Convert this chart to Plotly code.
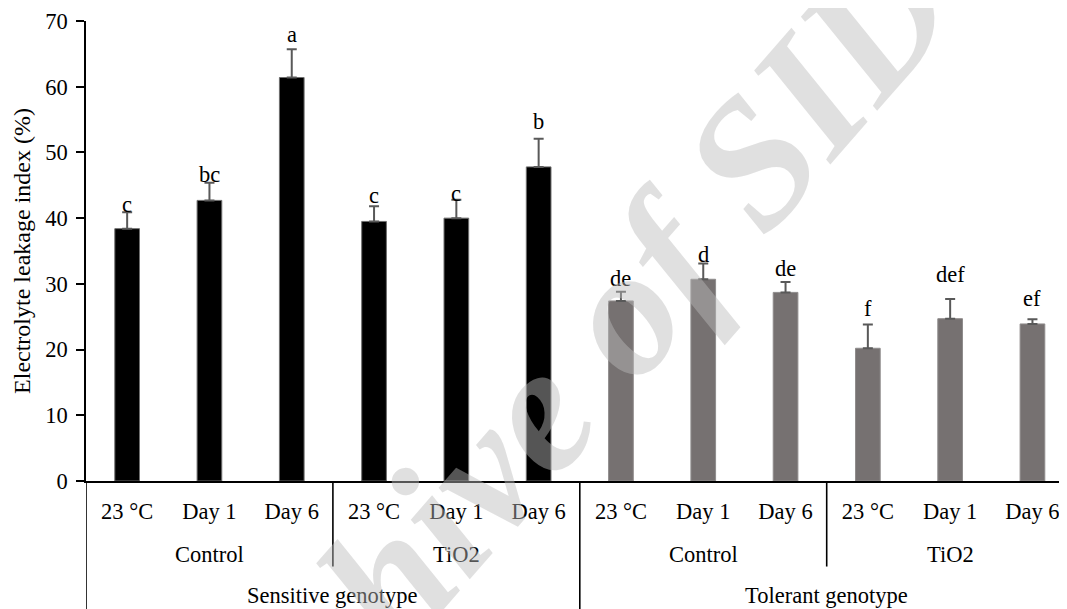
import plotly.graph_objects as go

# ---- data ----
treatments = ["23 °C", "Day 1", "Day 6"] * 4
conditions = ["Control", "TiO2", "Control", "TiO2"]
genotypes = ["Sensitive genotype", "Tolerant genotype"]
values = [38.4, 42.7, 61.4, 39.5, 40.0, 47.8, 27.4, 30.7, 28.7, 20.2, 24.7, 23.9]
errors = [2.5, 2.7, 4.3, 2.3, 2.8, 4.3, 1.4, 2.4, 1.6, 3.6, 3.0, 0.7]
letters = ["c", "bc", "a", "c", "c", "b", "de", "d", "de", "f", "def", "ef"]
y_ticks = [0, 10, 20, 30, 40, 50, 60, 70]

# ---- style ----
FONT = "Liberation Serif"
FS = 22.5
label_gap = [-1, 0, 6, 2, -2, 9, 5, 0, 5, 8, 16, 12]  # px gap between cap and letter baseline
OFF = 8  # page body offset of the figure in the browser window
W, H = 1067, 609
L, T = 86 - OFF, 21 - OFF
plot_h = 460.4
B = H - T - plot_h
R = 0
plot_w = W - L - R
cat_px = 82.3
x_max = -0.5 + plot_w / cat_px
AX_Y = T + plot_h + OFF  # window pixel of the x axis


def py_to_paper(py):
    # window pixel y -> paper fraction
    return (AX_Y - py) / plot_h


def px_to_paper(px):
    return (px - OFF - L) / plot_w


xs = list(range(len(values)))
colors = ["#000000"] * 6 + ["#767171"] * 6
edge = ["#6e6e6e"] * 6 + ["#8f8c8c"] * 6

fig = go.Figure()
fig.add_trace(go.Bar(
    x=xs, y=values, width=0.3,
    marker=dict(color=colors, line=dict(color=edge, width=1)),
    error_y=dict(type="data", array=errors, symmetric=False, arrayminus=[0] * len(errors),
                 color="#595959", thickness=2, width=5),
    showlegend=False,
))

annotations = []
for i, (v, e, t) in enumerate(zip(values, errors, letters)):
    annotations.append(dict(x=i, y=v + e, xref="x", yref="y", text=t, showarrow=False,
                            xanchor="center", yanchor="bottom", yshift=label_gap[i] - 6,
                            font=dict(family=FONT, size=FS, color="black")))

# second level labels
for k, c in enumerate(conditions):
    annotations.append(dict(x=3 * k + 1, y=py_to_paper(555), xref="x", yref="paper", text=c,
                            showarrow=False, xanchor="center", yanchor="middle",
                            font=dict(family=FONT, size=FS, color="black")))
# third level labels
for k, g in enumerate(genotypes):
    annotations.append(dict(x=6 * k + 2.5, y=py_to_paper(596), xref="x", yref="paper", text=g,
                            showarrow=False, xanchor="center", yanchor="middle",
                            font=dict(family=FONT, size=FS, color="black")))

# watermark
annotations.append(dict(x=px_to_paper(543), y=py_to_paper(402), xref="paper", yref="paper",
                        text="<b><i>Archive of SID</i></b>", showarrow=False, textangle=-49,
                        xanchor="center", yanchor="middle",
                        font=dict(family=FONT, size=182, color="rgba(187,187,187,0.455)")))

shapes = []
for xd, bottom in [(-0.5, 700), (2.5, 567), (5.5, 700), (8.5, 567)]:
    shapes.append(dict(type="line", xref="x", yref="paper", x0=xd, x1=xd,
                       y0=0, y1=py_to_paper(bottom), line=dict(color="black", width=1.6)))

fig.update_layout(
    width=W, height=H,
    margin=dict(l=L, r=R, t=T, b=B, pad=0, autoexpand=False),
    plot_bgcolor="white", paper_bgcolor="white",
    font=dict(family=FONT, size=FS, color="black"),
    xaxis=dict(range=[-0.5, x_max], tickmode="array", tickvals=xs, ticktext=treatments,
               showline=True, linecolor="black", linewidth=2, ticks="", showgrid=False,
               zeroline=False, ticklabelstandoff=9, automargin=False,
               tickfont=dict(family=FONT, size=FS, color="black")),
    yaxis=dict(range=[0, 70], tickmode="array", tickvals=y_ticks, showline=True,
               linecolor="black", linewidth=1.5, ticks="outside", ticklen=8, tickwidth=1.5,
               tickcolor="black", showgrid=False, zeroline=False, ticklabelstandoff=4,
               automargin=False,
               tickfont=dict(family=FONT, size=FS, color="black"),
               title=dict(text="Electrolyte leakage index (%)", standoff=8,
                          font=dict(family=FONT, size=24, color="black"))),
    annotations=annotations,
    shapes=shapes,
    bargap=0.7,
)

fig.write_html("out.html")
